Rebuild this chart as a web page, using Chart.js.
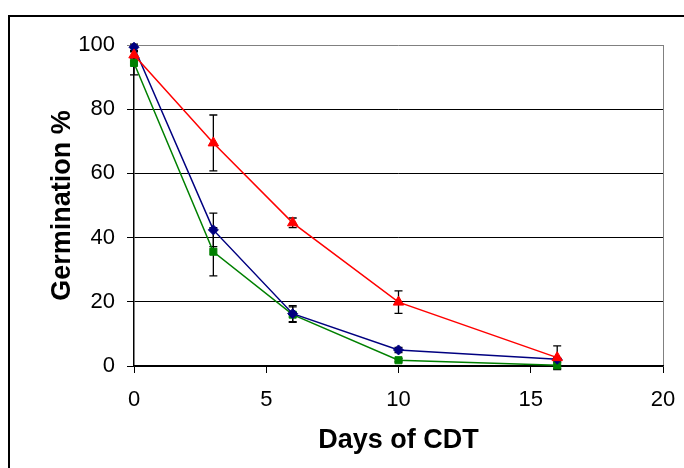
<!DOCTYPE html>
<html>
<head>
<meta charset="utf-8">
<title>Germination vs days of CDT</title>
<script src="https://cdn.jsdelivr.net/npm/chart.js@4/dist/chart.umd.min.js"></script>
<style>
    body { margin: 0; background: #fff; }
    canvas { display: block; }
</style>
</head>
<body>
<canvas id="canvGraph" width="684" height="468"></canvas>
<script>
var days = [0, 3, 6, 10, 16];

var blueValues = [99.3, 42.4, 16.3, 5.0, 2.1];
var blueErrors = [1.0, 5.2, 2.5, 0.8, 0.5];

var greenValues = [94.4, 35.6, 16.0, 1.8, 0.2];
var greenErrors = [3.7, 7.5, 2.4, 0.5, 1.0];

var redValues = [96.9, 69.5, 44.6, 19.9, 2.6];
var redErrors = [1.0, 8.7, 1.5, 3.5, 3.7];

var xTicks = [0, 5, 10, 15, 20];
var yTicks = [0, 20, 40, 60, 80, 100];

function toPoints(values) {
    var points = [];
    for (var i = 0; i < days.length; i++) {
        points.push({x: days[i], y: values[i]});
    }
    return points;
}

// error bars + frame, drawn with the chart's own scales
var errorBarPlugin = {
    id: 'errorBars',
    beforeDatasetsDraw: function (chart) {
        var ctx = chart.ctx;
        var xScale = chart.scales.x;
        var yScale = chart.scales.y;
        ctx.save();
        ctx.strokeStyle = '#000';
        ctx.lineWidth = 1.3;
        chart.data.datasets.forEach(function (ds) {
            ds.data.forEach(function (p, i) {
                var err = ds.errors[i];
                var px = xScale.getPixelForValue(p.x);
                var top = yScale.getPixelForValue(p.y + err);
                var bottom = yScale.getPixelForValue(p.y - err);
                ctx.beginPath();
                ctx.moveTo(px, top);
                ctx.lineTo(px, bottom);
                ctx.moveTo(px - 4, top);
                ctx.lineTo(px + 4, top);
                ctx.moveTo(px - 4, bottom);
                ctx.lineTo(px + 4, bottom);
                ctx.stroke();
            });
        });
        ctx.restore();
    },
    beforeDraw: function (chart) {
        var ctx = chart.ctx;
        var area = chart.chartArea;
        ctx.save();
        ctx.fillStyle = '#fff';
        ctx.fillRect(0, 0, chart.width, chart.height);
        // outer frame (runs off the right and bottom edge)
        ctx.strokeStyle = '#000';
        ctx.lineWidth = 2;
        ctx.beginPath();
        ctx.moveTo(9, chart.height + 2);
        ctx.lineTo(9, 16);
        ctx.lineTo(chart.width + 2, 16);
        ctx.stroke();
        // right edge of the plot box
        ctx.strokeStyle = '#808080';
        ctx.lineWidth = 1;
        ctx.beginPath();
        ctx.moveTo(Math.round(area.right) + 0.5, area.top);
        ctx.lineTo(Math.round(area.right) + 0.5, area.bottom);
        ctx.stroke();
        ctx.restore();
    }
};

function buildChart() {
    var ctx = document.getElementById('canvGraph').getContext('2d');

    var config = {
        datasets: [{
                label: 'red',
                data: toPoints(redValues),
                errors: redErrors,
                borderColor: '#ff0000',
                backgroundColor: '#ff0000',
                borderWidth: 1.5,
                pointStyle: 'triangle',
                pointRadius: 6,
                pointBorderWidth: 1
            }, {
                label: 'blue',
                data: toPoints(blueValues),
                errors: blueErrors,
                borderColor: '#000080',
                backgroundColor: '#000080',
                borderWidth: 1.5,
                pointStyle: 'rectRot',
                pointRadius: 5,
                pointBorderWidth: 1
            }, {
                label: 'green',
                data: toPoints(greenValues),
                errors: greenErrors,
                borderColor: '#008000',
                backgroundColor: '#008000',
                borderWidth: 1.5,
                pointStyle: 'rect',
                pointRadius: 5,
                pointBorderWidth: 1
            }]
    };

    new Chart(ctx, {
        type: 'line',
        data: config,
        plugins: [errorBarPlugin],
        options: {
            responsive: false,
            animation: false,
            devicePixelRatio: 1,
            clip: false,
            layout: {
                padding: {top: 45, right: 21, left: 0, bottom: 0}
            },
            plugins: {
                legend: {display: false},
                tooltip: {enabled: false}
            },
            scales: {
                x: {
                    type: 'linear',
                    min: 0,
                    max: 20,
                    afterFit: function (scale) {
                        scale.height = 102;
                        scale.paddingLeft = 0;
                        scale.paddingRight = 0;
                    },
                    afterBuildTicks: function (scale) {
                        scale.ticks = xTicks.map(function (v) { return {value: v}; });
                    },
                    grid: {
                        drawOnChartArea: false,
                        drawTicks: true,
                        tickLength: 7,
                        color: '#000'
                    },
                    border: {color: '#000', width: 1.5},
                    ticks: {
                        color: '#000',
                        padding: 14,
                        maxRotation: 0,
                        font: {family: '"Liberation Sans", Arial, sans-serif', size: 22}
                    },
                    title: {
                        display: true,
                        text: 'Days of CDT',
                        color: '#000',
                        padding: {top: 15, bottom: 14},
                        font: {family: '"Liberation Sans", Arial, sans-serif', size: 27, weight: 'bold', lineHeight: 1}
                    }
                },
                y: {
                    min: 0,
                    max: 100,
                    afterFit: function (scale) { scale.width = 134; },
                    afterBuildTicks: function (scale) {
                        scale.ticks = yTicks.map(function (v) { return {value: v}; });
                    },
                    grid: {
                        drawOnChartArea: true,
                        drawTicks: true,
                        tickLength: 7,
                        color: function (c) { return c.tick && c.tick.value === 100 ? '#808080' : '#000'; }
                    },
                    border: {color: '#000', width: 1.5},
                    ticks: {
                        color: '#000',
                        padding: 12,
                        font: {family: '"Liberation Sans", Arial, sans-serif', size: 22}
                    },
                    title: {
                        display: true,
                        text: 'Germination %',
                        color: '#000',
                        padding: {top: 49, bottom: 0},
                        font: {family: '"Liberation Sans", Arial, sans-serif', size: 27, weight: 'bold', lineHeight: 1}
                    }
                }
            }
        }
    });
}

buildChart();
</script>
</body>
</html>
